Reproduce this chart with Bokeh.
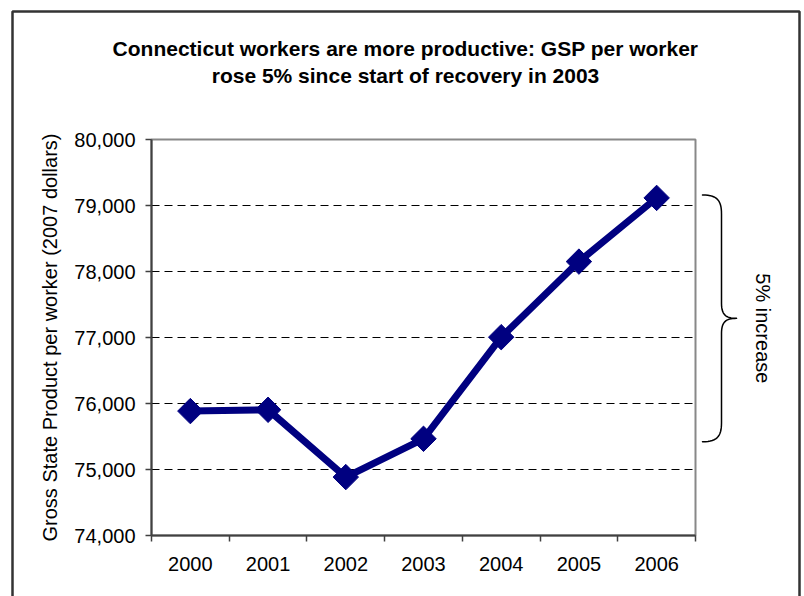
import numpy as np
from bokeh.plotting import figure
from bokeh.models import (FixedTicker, NumeralTickFormatter, Label, PolyAnnotation,
                          BoxAnnotation, Range1d)
from bokeh.embed import file_html
from bokeh.resources import INLINE

# Gross State Product per worker, Connecticut (2007 dollars)
years = ["2000", "2001", "2002", "2003", "2004", "2005", "2006"]
gsp_per_worker = [75885, 75905, 74885, 75465, 77005, 78150, 79115]
y_ticks = [74000, 75000, 76000, 77000, 78000, 79000, 80000]

title_lines = [
    "Connecticut workers are more productive: GSP per worker",
    "rose 5% since start of recovery in 2003",
]
y_label = "Gross State Product per worker (2007 dollars)"
brace_label = "5% increase"

FONT = "Liberation Sans"
NAVY = "#000080"
AXIS = "#404040"

# page size and where the plot area sits on it (pixels from top-left)
W, H = 804, 596
A_LEFT, A_RIGHT, A_TOP, A_BOTTOM = 151, 695, 139, 535

idx = list(range(len(years)))
X_LO, X_HI = -0.5, len(years) - 0.5
Y_LO, Y_HI = y_ticks[0], y_ticks[-1]

# the frame covers the whole canvas so that the title, chart border and
# brace can all be drawn; ranges are widened so the data area lands on A_*
ppx = (A_RIGHT - A_LEFT) / (X_HI - X_LO)
ppy = (A_BOTTOM - A_TOP) / (Y_HI - Y_LO)
x_range = Range1d(X_LO - A_LEFT / ppx, X_HI + (W - A_RIGHT) / ppx)
y_range = Range1d(Y_LO - (H - A_BOTTOM) / ppy, Y_HI + A_TOP / ppy)


def py_of(v):
    """data y -> pixel row"""
    return A_BOTTOM - (v - Y_LO) * ppy


def sy(py):
    """pixel row -> screen units (measured up from the bottom)"""
    return H - py


p = figure(
    width=W, height=H,
    output_backend="svg", toolbar_location=None,
    x_range=x_range, y_range=y_range,
    min_border=0, min_border_left=0, min_border_right=0,
    min_border_top=0, min_border_bottom=0,
    background_fill_color="white", border_fill_color="white",
)
p.title = None
p.outline_line_color = None
p.grid.visible = False

# plot area: grey top/right edges (left/bottom are covered by the axes)
p.add_layout(BoxAnnotation(left=X_LO, right=X_HI, bottom=Y_LO, top=Y_HI, level="underlay",
                           fill_alpha=0, line_color="#888888", line_alpha=1, line_width=2))

# dashed horizontal gridlines across the plot area
grid_vals = y_ticks[1:-1]
p.segment(x0=[X_LO] * len(grid_vals), y0=grid_vals, x1=[X_HI] * len(grid_vals), y1=grid_vals,
          line_color="black", line_width=1, line_dash="8 5")

# x axis: category labels at centres, tick marks between categories
xa = p.xaxis[0]
xa.fixed_location = Y_LO
xa.bounds = (X_LO, X_HI)
xa.ticker = FixedTicker(ticks=idx, minor_ticks=[i - 0.5 for i in range(len(years) + 1)])
xa.major_label_overrides = {i: y for i, y in zip(idx, years)}
xa.major_tick_line_color = None
xa.major_tick_out = 0
xa.major_tick_in = 0
xa.minor_tick_out = 6
xa.minor_tick_in = 0
xa.minor_tick_line_color = AXIS
xa.minor_tick_line_width = 1.5
xa.axis_line_color = AXIS
xa.axis_line_width = 2
xa.major_label_standoff = 15
xa.major_label_text_font = FONT
xa.major_label_text_font_size = "20px"
xa.major_label_text_color = "black"

ya = p.yaxis[0]
ya.fixed_location = X_LO
ya.bounds = (Y_LO, Y_HI)
ya.ticker = FixedTicker(ticks=y_ticks)
ya.formatter = NumeralTickFormatter(format="0,0")
ya.major_tick_out = 6
ya.major_tick_in = 0
ya.minor_tick_line_color = None
ya.major_tick_line_color = AXIS
ya.major_tick_line_width = 1.5
ya.axis_line_color = AXIS
ya.axis_line_width = 2
ya.major_label_standoff = 10
ya.major_label_text_font = FONT
ya.major_label_text_font_size = "20px"
ya.major_label_text_color = "black"
ya.axis_label = y_label
ya.axis_label_text_font = FONT
ya.axis_label_text_font_size = "20px"
ya.axis_label_text_font_style = "normal"
ya.axis_label_text_color = "black"
ya.axis_label_standoff = 10

# the series
p.line(idx, gsp_per_worker, line_color=NAVY, line_width=7, line_join="round")
p.scatter(idx, gsp_per_worker, marker="square", size=18, angle=np.pi / 4,
          fill_color=NAVY, line_color=NAVY)

# chart border: left, top and right edges (bottom runs off the page)
p.add_layout(PolyAnnotation(xs=[12, 12, 799, 799], ys=[-30, sy(11), sy(11), -30],
                            xs_units="screen", ys_units="screen",
                            fill_alpha=0, line_color="#333333", line_alpha=1, line_width=2.5))

# two-line bold title
for text, base in zip(title_lines, [48, 75]):
    p.add_layout(Label(x=405, y=sy(base), x_units="screen", y_units="screen", text=text,
                       text_align="center", text_baseline="alphabetic", text_font=FONT,
                       text_font_size="21px", text_font_style="bold", text_color="black"))

# curly brace spanning the rise from 2003 to 2006
start_v = gsp_per_worker[years.index("2003")]
end_v = gsp_per_worker[years.index("2006")]
y_top = py_of(end_v) - 3
y_bot = py_of(start_v) + 3
y_mid = (y_top + y_bot) / 2
x_end, x_stem, x_tip = 702, 721, 736


def cubic(p0, p1, p2, p3, n=16):
    t = np.linspace(0, 1, n)[:, None]
    pts = ((1 - t) ** 3) * np.array(p0) + 3 * ((1 - t) ** 2) * t * np.array(p1) \
        + 3 * (1 - t) * t ** 2 * np.array(p2) + t ** 3 * np.array(p3)
    return pts.tolist()


path = []
path += cubic((x_end, y_top), (x_stem - 4, y_top), (x_stem, y_top + 6), (x_stem, y_top + 19))
path += [(x_stem, y_mid - 15)]
path += cubic((x_stem, y_mid - 15), (x_stem, y_mid - 3), (x_stem + 5, y_mid), (x_tip, y_mid))
path += cubic((x_tip, y_mid), (x_stem + 5, y_mid), (x_stem, y_mid + 3), (x_stem, y_mid + 15))
path += [(x_stem, y_bot - 19)]
path += cubic((x_stem, y_bot - 19), (x_stem, y_bot - 6), (x_stem - 4, y_bot), (x_end, y_bot))
path = path + path[::-1]  # retrace so the closed outline stays a single stroke
p.add_layout(PolyAnnotation(xs=[a for a, _ in path], ys=[sy(b) for _, b in path],
                            xs_units="screen", ys_units="screen",
                            fill_alpha=0, line_color="black", line_alpha=1,
                            line_width=1.5, line_join="round"))

p.add_layout(Label(x=762, y=sy(y_mid + 10), x_units="screen", y_units="screen",
                   text=brace_label, angle=-np.pi / 2,
                   text_align="center", text_baseline="middle", text_font=FONT,
                   text_font_size="20px", text_color="black"))

open("out.html", "w").write(file_html(p, INLINE))
